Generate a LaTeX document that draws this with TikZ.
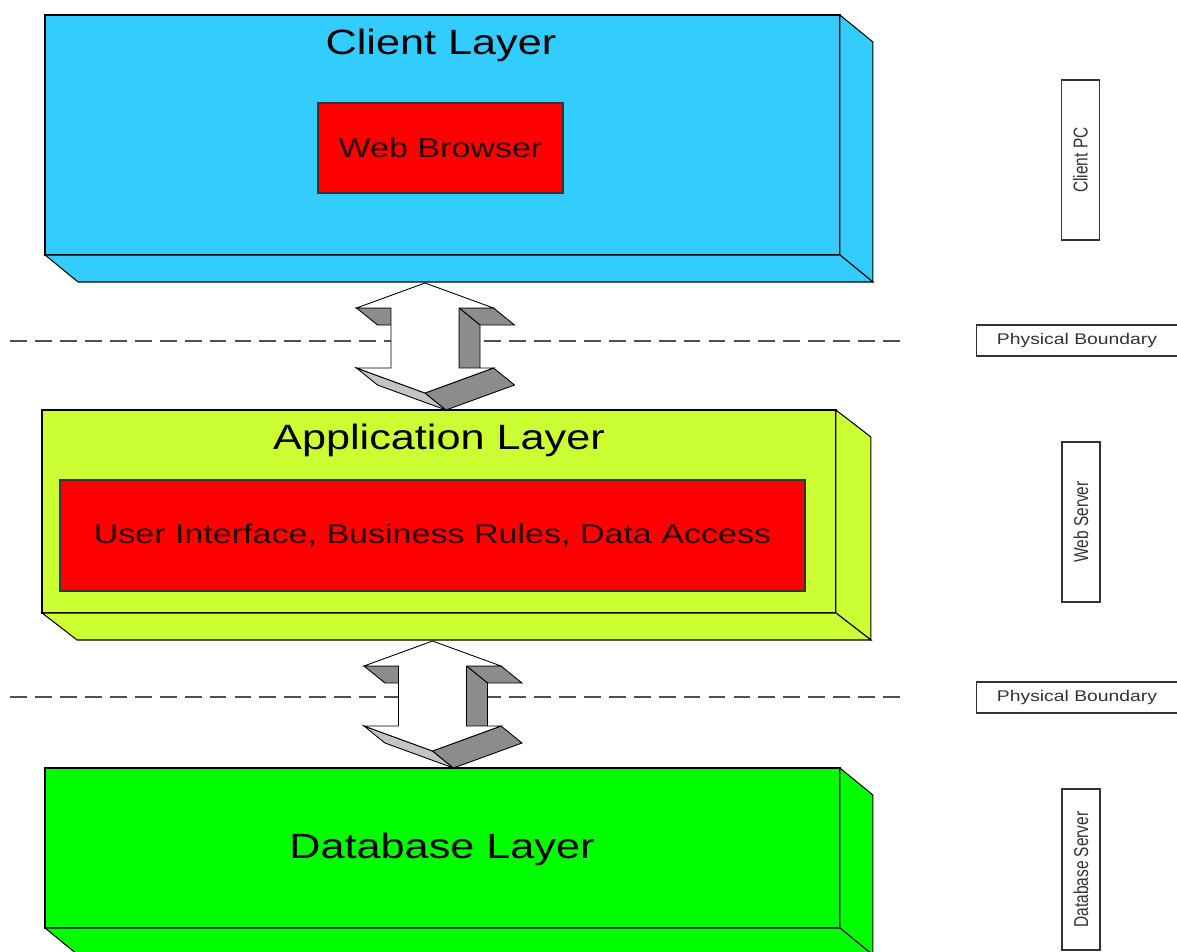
\documentclass[tikz,border=0pt]{standalone}
\usepackage{fontspec}
\setmainfont{Liberation Sans}
\usetikzlibrary{calc}
\definecolor{clientblue}{HTML}{33CCFF}
\definecolor{appyellow}{HTML}{CCFF33}
\definecolor{dbgreen}{HTML}{00FF00}
\definecolor{boxred}{HTML}{FF0000}
\definecolor{darkgrayface}{HTML}{8C8C8C}
\definecolor{lightgrayface}{HTML}{C4C4C4}
\definecolor{dashgray}{HTML}{505050}
\tikzset{
  layer/.style={draw=black, line width=0.7pt, inner sep=0pt, outer sep=0pt},
  face/.style={draw=black, line width=0.6pt, line join=miter},
  innerbox/.style={draw=black!80, line width=0.7pt, fill=boxred, inner sep=0pt, outer sep=0pt},
  titletext/.style={font=\fontsize{20}{24}\selectfont, text=black},
  innertext/.style={font=\fontsize{15.5}{18}\selectfont, text=black!85!red},
  sidelabel/.style={draw=black!80, line width=0.7pt, fill=white, inner sep=0pt, outer sep=0pt,
    font=\fontsize{8.8}{10}\selectfont, text=black!80},
  boundary/.style={draw=dashgray, line width=0.8pt, dash pattern=on 9.6pt off 4.6pt},
  arrowedge/.style={draw=black, line width=0.5pt, line join=miter},
  pics/dblarrow/.style={code={
    % extruded faces (offset 21,17)
    \filldraw[arrowedge, fill=darkgrayface] (-68.5,25) -- (-34,25) -- (-13,42) -- (-47.5,42) -- cycle;
    \filldraw[arrowedge, fill=darkgrayface] (34,25) -- (68.5,25) -- (89.5,42) -- (55,42) -- cycle;
    \filldraw[arrowedge, fill=darkgrayface] (34,25) -- (55,42) -- (55,102) -- (34,85) -- cycle;
    \filldraw[arrowedge, fill=lightgrayface] (-68.5,85) -- (0,110) -- (21,127) -- (-47.5,102) -- cycle;
    \filldraw[arrowedge, fill=darkgrayface] (0,110) -- (68.5,85) -- (89.5,102) -- (21,127) -- cycle;
    % front face
    \filldraw[arrowedge, fill=white] (0,0) -- (68.5,25) -- (34,25) -- (34,85) -- (68.5,85)
      -- (0,110) -- (-68.5,85) -- (-34,85) -- (-34,25) -- (-68.5,25) -- cycle;
  }}
}
\begin{document}
\begin{tikzpicture}[x=0.02cm, y=-0.02cm]
\useasboundingbox (0,0) rectangle (1177,951);

% ---------- Client layer ----------
\node[layer, fill=clientblue, minimum width=15.9cm, minimum height=4.8cm] (client) at (442.5,135) {};
\filldraw[face, fill=clientblue] (client.north east) -- ++(33,27) -- ++(0,240) -- (client.south east) -- cycle;
\filldraw[face, fill=clientblue] (client.south west) -- (client.south east) -- ++(33,27) -- ($(client.south west)+(33,27)$) -- cycle;
\node[titletext] (clienttitle) at (441,45) {\scalebox{1.23}[1]{Client Layer}};
\node[innerbox, minimum width=4.9cm, minimum height=1.8cm] (browser) at (440.5,148) {};
\node[innertext] (browsertext) at (browser.center) {\scalebox{1.25}[1]{Web Browser}};

% ---------- Application layer ----------
\node[layer, fill=appyellow, minimum width=15.88cm, minimum height=4.06cm] (app) at (439,511.5) {};
\filldraw[face, fill=appyellow] (app.north east) -- ++(35,27) -- ++(0,203) -- (app.south east) -- cycle;
\filldraw[face, fill=appyellow] (app.south west) -- (app.south east) -- ++(35,27) -- ($(app.south west)+(35,27)$) -- cycle;
\node[titletext] (apptitle) at (439,440) {\scalebox{1.23}[1]{Application Layer}};
\node[innerbox, minimum width=14.9cm, minimum height=2.22cm] (appinner) at (432.5,535.5) {};
\node[innertext] (appinnertext) at (appinner.center) {\scalebox{1.25}[1]{User Interface, Business Rules, Data Access}};

% ---------- Database layer ----------
\node[layer, fill=dbgreen, minimum width=15.9cm, minimum height=3.2cm] (db) at (442.5,848) {};
\filldraw[face, fill=dbgreen] (db.north east) -- ++(33,27) -- ++(0,160) -- (db.south east) -- cycle;
\filldraw[face, fill=dbgreen] (db.south west) -- (db.south east) -- ++(33,27) -- ($(db.south west)+(33,27)$) -- cycle;
\node[titletext] (dbtitle) at (442,849) {\scalebox{1.23}[1]{Database Layer}};

% ---------- Physical boundaries ----------
\coordinate (b1l) at (10,341);
\coordinate (b1r) at (903,341);
\coordinate (b2l) at (10,697);
\coordinate (b2r) at (903,697);
\draw[boundary] (b1l) -- (b1r);
\draw[boundary] (b2l) -- (b2r);

% ---------- Block arrows ----------
\pic (arrowone) at (425,283) {dblarrow};
\pic (arrowtwo) at (432.5,641) {dblarrow};

% ---------- Side labels ----------
\node[sidelabel, rotate=90, minimum width=3.2cm, minimum height=0.76cm] (clientpc) at (1080.5,160) {\scalebox{1}[1.3]{Client PC}};
\node[sidelabel, minimum width=4.02cm, minimum height=0.62cm] (pb1) at (1077,340.5) {\scalebox{1.25}[1]{Physical Boundary}};
\node[sidelabel, rotate=90, minimum width=3.2cm, minimum height=0.76cm] (webserver) at (1081,522) {\scalebox{1}[1.3]{Web Server}};
\node[sidelabel, minimum width=4.02cm, minimum height=0.62cm] (pb2) at (1077,697.5) {\scalebox{1.25}[1]{Physical Boundary}};
\node[sidelabel, rotate=90, minimum width=3.22cm, minimum height=0.76cm] (dbserver) at (1081,869.5) {\scalebox{1}[1.3]{Database Server}};
\end{tikzpicture}
\end{document}
